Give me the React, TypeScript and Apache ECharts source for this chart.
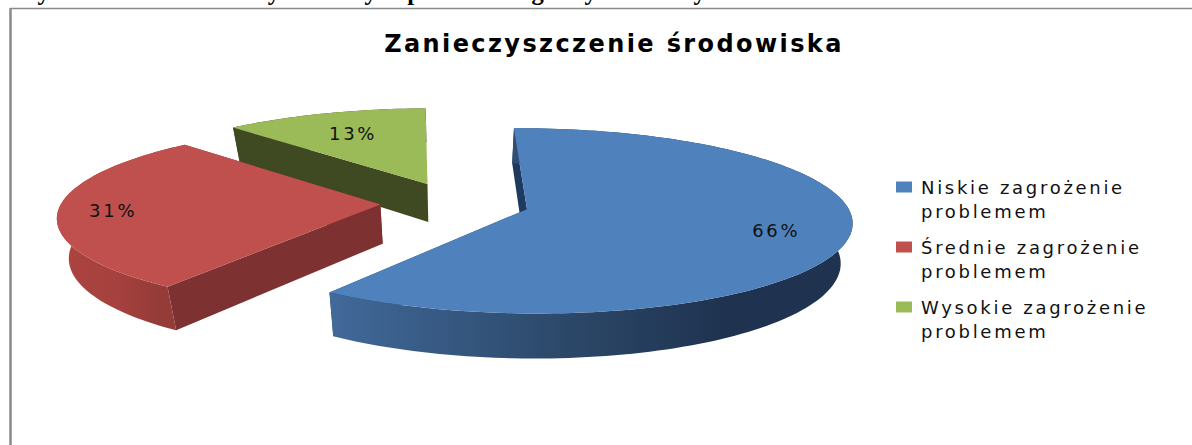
import React, { useEffect, useRef } from "react";
import * as echarts from "echarts";

const heading = "Wykres 29 Ocena zidentyfikowanych problemów gminy - zanieczyszczenie środowiska";
const chartTitle = "Zanieczyszczenie środowiska";
const categories = ["Niskie zagrożenie problemem", "Średnie zagrożenie problemem", "Wysokie zagrożenie problemem"];
const values = [66, 31, 13];
const topColors = ["#4f81bd", "#c0504d", "#9bbb59"];
const cutColors = ["#1f3a5f", "#7d3130", "#3f4a22"];
const arcColors = [
  ["#41699a", "#2c4869", "#1f3350", "#1f3350"],
  ["#ad4440", "#a5413e", "#953b38", "#953b38"],
  ["#3f4a22", "#3f4a22", "#3f4a22", "#3f4a22"],
];
const labelRadius = [0.78, 0.83, 0.7];
const total = values.reduce((a, b) => a + b, 0);

// Perspective of the pie plane
const CX = 455, CY = 203, RX = 319, RY = 89.6, P = 0.125, DEPTH = 39, BOTTOM_SCALE = 0.97;
const START_DEG = -1, EXPLODE = 0.234;

const project = (u: number, v: number, low = false) => {
  const s = 1 / (1 - P * v);
  const x = RX * u * s;
  const y = RY * v * s;
  return low ? [CX + x * BOTTOM_SCALE, CY + y + DEPTH * s] : [CX + x, CY + y];
};

const rad = (d: number) => (d * Math.PI) / 180;

function sliceAngles(index: number) {
  let before = 0;
  for (let i = 0; i < index; i++) before += values[i];
  const a0 = START_DEG + (before / total) * 360;
  const a1 = START_DEG + ((before + values[index]) / total) * 360;
  return [a0, a1];
}

function slicePoint(index: number, deg: number, r: number, low = false) {
  const [a0, a1] = sliceAngles(index);
  const mid = rad((a0 + a1) / 2);
  const u = EXPLODE * Math.sin(mid) + r * Math.sin(rad(deg));
  const v = -EXPLODE * Math.cos(mid) - r * Math.cos(rad(deg));
  return project(u, v, low);
}

function arcPoints(index: number, low = false) {
  const [a0, a1] = sliceAngles(index);
  const pts: number[][] = [];
  const n = Math.ceil((a1 - a0) / 1.5);
  for (let i = 0; i <= n; i++) pts.push(slicePoint(index, a0 + ((a1 - a0) * i) / n, 1, low));
  return pts;
}

function renderSlice(index: number) {
  const [a0, a1] = sliceAngles(index);
  const top = arcPoints(index);
  const bottom = arcPoints(index, true);
  const apex = slicePoint(index, a0, 0);
  const apexLow = slicePoint(index, a0, 0, true);
  const xs = top.concat(bottom).map((p) => p[0]);
  const minX = Math.min(...xs), maxX = Math.max(...xs);
  const label = slicePoint(index, (a0 + a1) / 2, labelRadius[index]);
  const wall = top.concat(bottom.slice().reverse());
  const grad = new echarts.graphic.LinearGradient(0, 0, 1, 0, [
    { offset: 0, color: arcColors[index][0] },
    { offset: 0.45, color: arcColors[index][1] },
    { offset: 0.75, color: arcColors[index][2] },
    { offset: 1, color: arcColors[index][3] },
  ]);
  const cut = (deg: number) => [
    slicePoint(index, deg, 1),
    apex,
    apexLow,
    slicePoint(index, deg, 1, true),
  ];
  return {
    type: "group",
    children: [
      { type: "polygon", shape: { points: cut(a0) }, style: { fill: cutColors[index] } },
      { type: "polygon", shape: { points: cut(a1) }, style: { fill: cutColors[index] } },
      { type: "polygon", shape: { points: wall }, style: { fill: grad } },
      { type: "polygon", shape: { points: top.concat([apex]) }, style: { fill: topColors[index] } },
      {
        type: "text",
        x: label[0],
        y: label[1],
        style: {
          text: values[index] + "%",
          fill: "#111",
          font: "18px 'DejaVu Sans'",
          textAlign: "center",
          textVerticalAlign: "middle",
        },
      },
    ],
    _range: [minX, maxX],
  };
}

const spacing = (t: string) => {
  if (t.startsWith("Wykres")) return "0px";
  if (t.startsWith("Zanie")) return "2.4px";
  return "2.7px";
};

export default function App() {
  const ref = useRef<HTMLDivElement>(null);
  useEffect(() => {
    document.body.style.margin = "0";
    document.body.style.background = "#fff";
    const chart = echarts.init(ref.current!, null, { renderer: "svg" });
    const order = [2, 1, 0];
    chart.setOption({
      animation: false,
      backgroundColor: "#fff",
      title: {
        text: chartTitle,
        left: 609,
        top: 27,
        textAlign: "center",
        textStyle: { fontFamily: "DejaVu Sans", fontWeight: "bold", fontSize: 24, color: "#000" },
      },
      legend: {
        orient: "vertical",
        left: 891,
        top: 146,
        icon: "rect",
        itemWidth: 16,
        itemHeight: 11,
        itemGap: -12,
        selectedMode: false,
        data: categories,
        formatter: (name: string) => {
          const i = name.lastIndexOf(" ");
          return "\n" + name.slice(0, i) + "\n" + name.slice(i + 1);
        },
        textStyle: { fontFamily: "DejaVu Sans", fontSize: 18, color: "#111", lineHeight: 24, padding: [0, 0, 0, 4] },
      },
      graphic: [
        { type: "line", silent: true, shape: { x1: 10, y1: 8.5, x2: 1192, y2: 8.5 }, style: { stroke: "#8a8a8a", lineWidth: 1.5 } },
        { type: "line", silent: true, shape: { x1: 10.5, y1: 8, x2: 10.5, y2: 445 }, style: { stroke: "#8a8a8a", lineWidth: 2.5 } },
        {
          type: "text",
          silent: true,
          x: 14,
          y: 4,
          style: { text: heading, fill: "#000", font: "bold 24.5px 'Liberation Serif'", textAlign: "left", textVerticalAlign: "bottom" },
        },
      ],
      series: order.map((i) => ({
        type: "custom",
        name: categories[i],
        coordinateSystem: "none",
        silent: true,
        itemStyle: { color: topColors[i] },
        data: [[values[i]]],
        renderItem: () => renderSlice(i),
      })),
    });
    const applySpacing = () => {
      ref.current!.querySelectorAll("text").forEach((el) => {
        (el as SVGTextElement).style.letterSpacing = spacing(el.textContent || "");
      });
    };
    applySpacing();
    chart.on("finished", applySpacing);
    return () => chart.dispose();
  }, []);
  return <div ref={ref} style={{ width: 1192, height: 445 }} />;
}
